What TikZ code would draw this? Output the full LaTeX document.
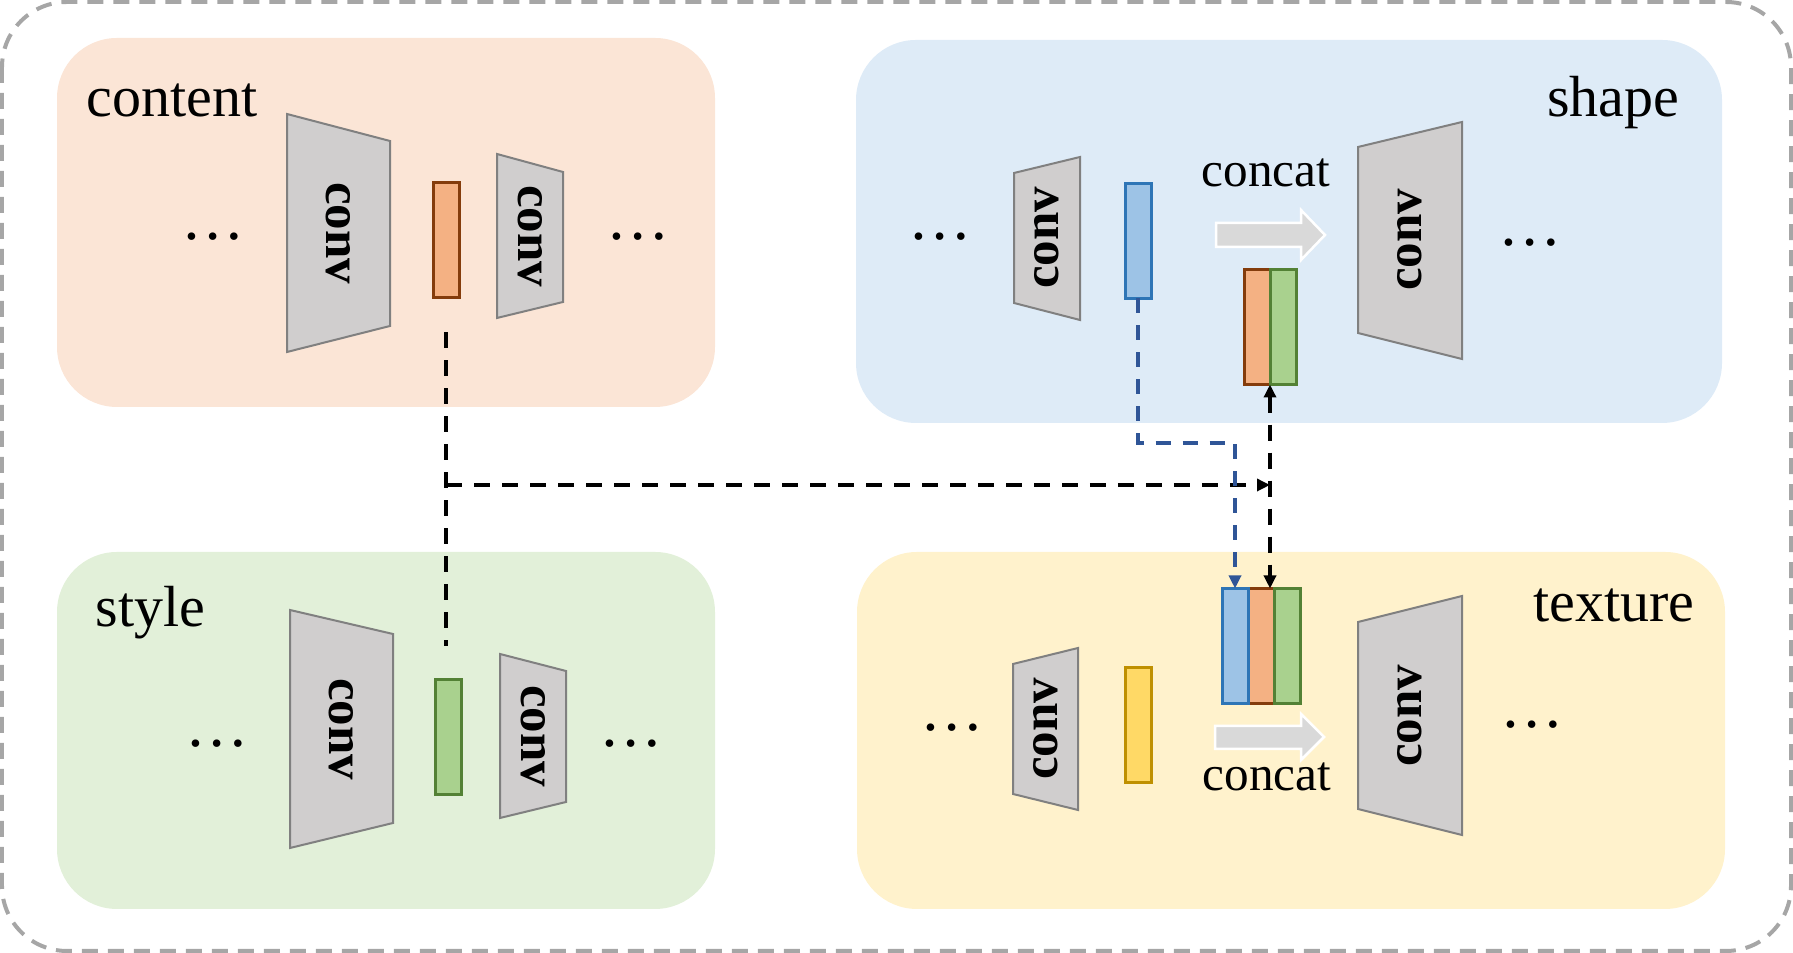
\documentclass[tikz,border=0pt]{standalone}
\usepackage{fontspec}
\setmainfont{Liberation Serif}
\usetikzlibrary{arrows.meta,positioning}
\definecolor{contentbg}{HTML}{FBE5D6}
\definecolor{shapebg}{HTML}{DEEBF7}
\definecolor{stylebg}{HTML}{E2F0D9}
\definecolor{texturebg}{HTML}{FFF2CC}
\definecolor{convgray}{HTML}{D0CECE}
\definecolor{convedge}{HTML}{808080}
\definecolor{framegray}{HTML}{A6A6A6}
\definecolor{arrowgray}{HTML}{D9D9D9}
\definecolor{ofill}{HTML}{F4B183}
\definecolor{oedge}{HTML}{843C0C}
\definecolor{gfill}{HTML}{A9D18E}
\definecolor{gedge}{HTML}{538135}
\definecolor{bfill}{HTML}{9DC3E6}
\definecolor{bedge}{HTML}{2E75B6}
\definecolor{yfill}{HTML}{FFD966}
\definecolor{yedge}{HTML}{BF9000}
\definecolor{bline}{HTML}{2F5597}
\begin{document}
\begin{tikzpicture}[x=0.1mm,y=-0.1mm,
    panel/.style={rounded corners=6mm},
    convbox/.style={fill=convgray,draw=convedge,line width=0.2mm},
    convtext/.style={font=\fontsize{14.5}{14.5}\selectfont\bfseries,inner sep=0},
    label/.style={font=\fontsize{16.5}{20}\selectfont,inner sep=0},
    concat/.style={font=\fontsize{14}{17}\selectfont,inner sep=0,anchor=base},
    dots/.style={font=\fontsize{18}{20}\selectfont,inner sep=0,anchor=base},
    catarrow/.style={fill=arrowgray,draw=white,line width=0.25mm},
    bar/.style={minimum width=2.6mm,minimum height=11.5mm,inner sep=0,outer sep=0,line width=0.3mm},
    obar/.style={bar,fill=ofill,draw=oedge},
    gbar/.style={bar,fill=gfill,draw=gedge},
    bbar/.style={bar,fill=bfill,draw=bedge},
    ybar/.style={bar,fill=yfill,draw=yedge},
    blkdash/.style={line width=0.35mm,dash pattern=on 1.6mm off 1.2mm},
    bludash/.style={bline,line width=0.32mm,dash pattern=on 1.5mm off 1.2mm},
    tip/.style={-{Triangle[length=1.3mm,width=1.2mm]}}]
  \useasboundingbox (0,0) rectangle (1793,953);
  \draw[framegray,line width=0.4mm,dash pattern=on 1.6mm off 1mm,rounded corners=6.5mm] (2,2) rectangle (1791,951);

  % panels
  \fill[panel,contentbg] (57,38) rectangle (715,407);
  \fill[panel,shapebg] (856,40) rectangle (1722,423);
  \fill[panel,stylebg] (57,552) rectangle (715,909);
  \fill[panel,texturebg] (857,552) rectangle (1725,909);
  \node[label,anchor=base west] (lcontent) at (86,117) {content};
  \node[label,anchor=base east] (lshape) at (1680,117) {shape};
  \node[label,anchor=base west] (lstyle) at (95,627) {style};
  \node[label,anchor=base east] (ltexture) at (1695,622) {texture};

  % content
  \node[dots] (cd1) at (213,240) {\dots};
  \draw[convbox] (287,114) -- (390,141) -- (390,326) -- (287,352) -- cycle;
  \node[convtext,rotate=-90] (cc1) at (338,233) {conv};
  \node[obar] (cbar) at (446,240) {};
  \draw[convbox] (497,154) -- (563,172) -- (563,302) -- (497,318) -- cycle;
  \node[convtext,rotate=-90] (cc2) at (530,236) {conv};
  \node[dots] (cd2) at (638,240) {\dots};

  % style
  \node[dots] (sd1) at (217,747) {\dots};
  \draw[convbox] (290,610) -- (393,634) -- (393,823) -- (290,848) -- cycle;
  \node[convtext,rotate=-90] (sc1) at (341,729) {conv};
  \node[gbar] (sbar) at (448,737) {};
  \draw[convbox] (500,654) -- (566,671) -- (566,802) -- (500,818) -- cycle;
  \node[convtext,rotate=-90] (sc2) at (533,736) {conv};
  \node[dots] (sd2) at (631,747) {\dots};

  % shape
  \node[dots] (hd1) at (940,240) {\dots};
  \draw[convbox] (1014,173) -- (1080,157) -- (1080,320) -- (1014,303) -- cycle;
  \node[convtext,rotate=90] (hc1) at (1047,238) {conv};
  \node[bbar] (sb) at (1138,241) {};
  \draw[catarrow] (1216,223) -- (1301,223) -- (1301,210) -- (1325,235) -- (1301,260) -- (1301,247) -- (1216,247) -- cycle;
  \node[concat] (hcat) at (1266,187) {concat};
  \node[obar] (so) at (1257,327) {};
  \node[gbar,right=0pt of so] (sg) {};
  \draw[convbox] (1358,147) -- (1462,122) -- (1462,359) -- (1358,333) -- cycle;
  \node[convtext,rotate=90] (hc2) at (1410,240) {conv};
  \node[dots] (hd2) at (1530,246) {\dots};

  % texture
  \node[dots] (td1) at (952,731) {\dots};
  \draw[convbox] (1013,664) -- (1078,648) -- (1078,810) -- (1013,794) -- cycle;
  \node[convtext,rotate=90] (tc1) at (1046,729) {conv};
  \node[ybar] (ybar) at (1138,725) {};
  \draw[catarrow] (1215,726) -- (1301,726) -- (1301,714) -- (1324,737) -- (1301,760) -- (1301,749) -- (1215,749) -- cycle;
  \node[concat] (tcat) at (1267,791) {concat};
  \node[obar] (to) at (1261,646) {};
  \node[bbar,left=0pt of to] (tb) {};
  \node[gbar,right=0pt of to] (tg) {};
  \draw[convbox] (1358,622) -- (1462,596) -- (1462,835) -- (1358,809) -- cycle;
  \node[convtext,rotate=90] (tc2) at (1410,716) {conv};
  \node[dots] (td2) at (1532,728) {\dots};

  % connections
  \coordinate (ctop) at ([yshift=-3.5mm]cbar.south);
  \coordinate (sbot) at ([yshift=3.3mm]sbar.north);
  \coordinate (hline) at (0,485);
  \coordinate (bturn) at (0,443);
  \draw[blkdash] (ctop) -- (ctop |- sbot);
  \draw[blkdash,tip] (ctop |- hline) -- (so.east |- hline);
  \draw[blkdash,{Triangle[length=1.3mm,width=1.2mm]}-{Triangle[length=1.3mm,width=1.2mm]}] (so.south east) -- (so.south east |- to.north);
  \draw[bludash,tip] (sb.south) -- (sb.south |- bturn) -- (tb.north |- bturn) -- (tb.north);
\end{tikzpicture}
\end{document}
